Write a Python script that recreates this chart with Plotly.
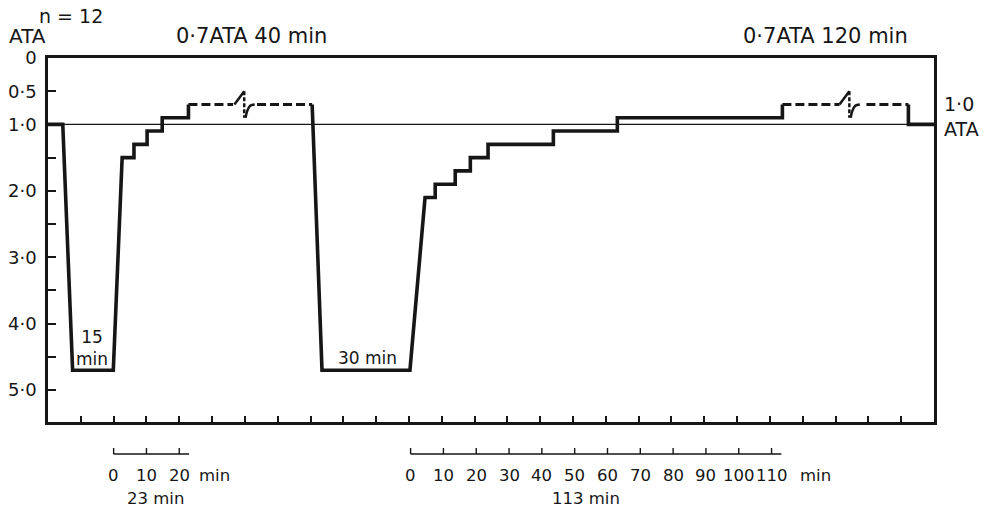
import plotly.graph_objects as go

# ---------------- data (time in minutes along the chart, pressure in ATA) ----------------
# solid profile segments (None separates segments)
solid_t = [0, 4.5, 7.5, 19.9, 22.6, 26.2, 26.2, 30.2, 30.2, 34.8, 34.8, 42.8, 42.8, None,
           80.5, 83.5, 110.3, 114.9, 118.0, 118.0, 124.1, 124.1, 128.7, 128.7, 134.1, 134.1,
           154.0, 154.0, 173.5, 173.5, 223.8, 223.8, None,
           262.2, 262.2, 270]
solid_p = [1.0, 1.0, 4.7, 4.7, 1.5, 1.5, 1.3, 1.3, 1.1, 1.1, 0.9, 0.9, 0.7, None,
           0.7, 4.7, 4.7, 2.1, 2.1, 1.9, 1.9, 1.7, 1.7, 1.5, 1.5, 1.3,
           1.3, 1.1, 1.1, 0.9, 0.9, 0.7, None,
           0.7, 1.0, 1.0]
# dashed 0.7 ATA exposures (interrupted by break marks)
dashed_t = [42.8, 56.4, None, 63.7, 80.5, None, 223.8, 241.2, None, 249.4, 262.2]
dashed_p = [0.7, 0.7, None, 0.7, 0.7, None, 0.7, 0.7, None, 0.7, 0.7]
break_t = [59.8, 244.2]
surface_p = 1.0

yticks = [0, 0.5, 1.0, 1.5, 2.0, 2.5, 3.0, 3.5, 4.0, 4.5, 5.0]
ytick_text = ["0", "0·5", "1·0", "", "2·0", "", "3·0", "", "4·0", "", "5·0"]
xticks = list(range(0, 271, 10))

scale1_start, scale1_total, scale1_ticks = 20, 23, [0, 10, 20]
scale2_start, scale2_total, scale2_ticks = 110.5, 113, [0, 10, 20, 30, 40, 50, 60, 70, 80, 90, 100, 110]

FONT = "DejaVu Sans"
INK = "#161616"

fig = go.Figure()

# surface reference line
fig.add_trace(go.Scatter(x=[0, 270], y=[surface_p, surface_p], mode="lines",
                         line=dict(color=INK, width=1.3), hoverinfo="skip", showlegend=False))
# dashed
fig.add_trace(go.Scatter(x=dashed_t, y=dashed_p, mode="lines",
                         line=dict(color=INK, width=2.8, dash="9px,4px"),
                         hoverinfo="skip", showlegend=False))
# break marks
for bt in break_t:
    fig.add_trace(go.Scatter(x=[bt - 3.0, bt], y=[0.7, 0.5], mode="lines",
                             line=dict(color=INK, width=2.5), showlegend=False, hoverinfo="skip"))
    fig.add_trace(go.Scatter(x=[bt, bt], y=[0.5, 0.9], mode="lines",
                             line=dict(color=INK, width=2.5, dash="4px,2px"),
                             showlegend=False, hoverinfo="skip"))
    fig.add_trace(go.Scatter(x=[bt + 0.4, bt + 0.9, bt + 1.8, bt + 3.2], y=[0.9, 0.8, 0.72, 0.7],
                             mode="lines", line=dict(color=INK, width=2.5, shape="spline"),
                             showlegend=False, hoverinfo="skip"))
# solid profile
fig.add_trace(go.Scatter(x=solid_t, y=solid_p, mode="lines",
                         line=dict(color=INK, width=3.6), connectgaps=False,
                         hoverinfo="skip", showlegend=False))

fig.update_layout(
    width=988, height=510,
    margin=dict(l=48, r=54, t=58, b=88),
    paper_bgcolor="white", plot_bgcolor="white",
    font=dict(family=FONT, color=INK, size=18),
    showlegend=False,
    xaxis=dict(range=[0, 270], showgrid=False, zeroline=False, showline=True,
               linecolor=INK, linewidth=2.5, mirror=True, automargin=False,
               tickvals=xticks, ticks="inside", ticklen=6, tickwidth=1.5, tickcolor=INK,
               showticklabels=False),
    yaxis=dict(range=[5.48, 0], showgrid=False, zeroline=False, showline=True,
               linecolor=INK, linewidth=2.5, mirror=True, automargin=False,
               tickvals=yticks, ticktext=ytick_text, ticks="inside", ticklen=8,
               tickwidth=1.5, tickcolor=INK, ticklabelstandoff=5,
               tickfont=dict(size=18, family=FONT, color=INK)),
)

ann = []
def txt(x, y, s, xref="x", yref="y", size=18, xanchor="center", align="center"):
    ann.append(dict(x=x, y=y, xref=xref, yref=yref, text=s, showarrow=False,
                    font=dict(size=size, family=FONT, color=INK),
                    xanchor=xanchor, yanchor="middle", align=align))

# top labels
txt(-0.0226, 1.0604, "ATA", xref="paper", yref="paper", size=20)
txt(0.026, 1.1154, "n = 12", xref="paper", yref="paper", size=19)
txt(61.9, 1.0604, "0·7ATA 40 min", yref="paper", size=21)
txt(236.8, 1.0604, "0·7ATA 120 min", yref="paper", size=21)
# right label
txt(1.0085, 0.88, "1·0<br>ATA", xref="paper", size=19, xanchor="left", align="left")
# in-plot labels
txt(13.4, 4.36, "15<br>min", size=17)
txt(97.3, 4.52, "30 min", size=17)

# scale bars below the chart
bar_y, tick_top, lab_y, tot_y = -0.0879, -0.0714, -0.148, -0.209
shapes = []
for start, total, ticks, unit_x, tot_x in [(scale1_start, scale1_total, scale1_ticks, 45.4, 32.9),
                                           (scale2_start, scale2_total, scale2_ticks, 228.6, 164.0)]:
    shapes.append(dict(type="line", xref="x", yref="paper", x0=start, x1=start + total,
                       y0=bar_y, y1=bar_y, line=dict(color=INK, width=1.6)))
    for tv in ticks:
        shapes.append(dict(type="line", xref="x", yref="paper", x0=start + tv, x1=start + tv,
                           y0=bar_y, y1=tick_top, line=dict(color=INK, width=1.4)))
        txt(start + tv, lab_y, str(tv), yref="paper", size=16.5)
    txt(unit_x, lab_y, "min", yref="paper", size=16.5, xanchor="left")
    txt(tot_x, tot_y, f"{total} min", yref="paper", size=16.5)

fig.update_layout(annotations=ann, shapes=shapes)
fig.write_html("out.html")
